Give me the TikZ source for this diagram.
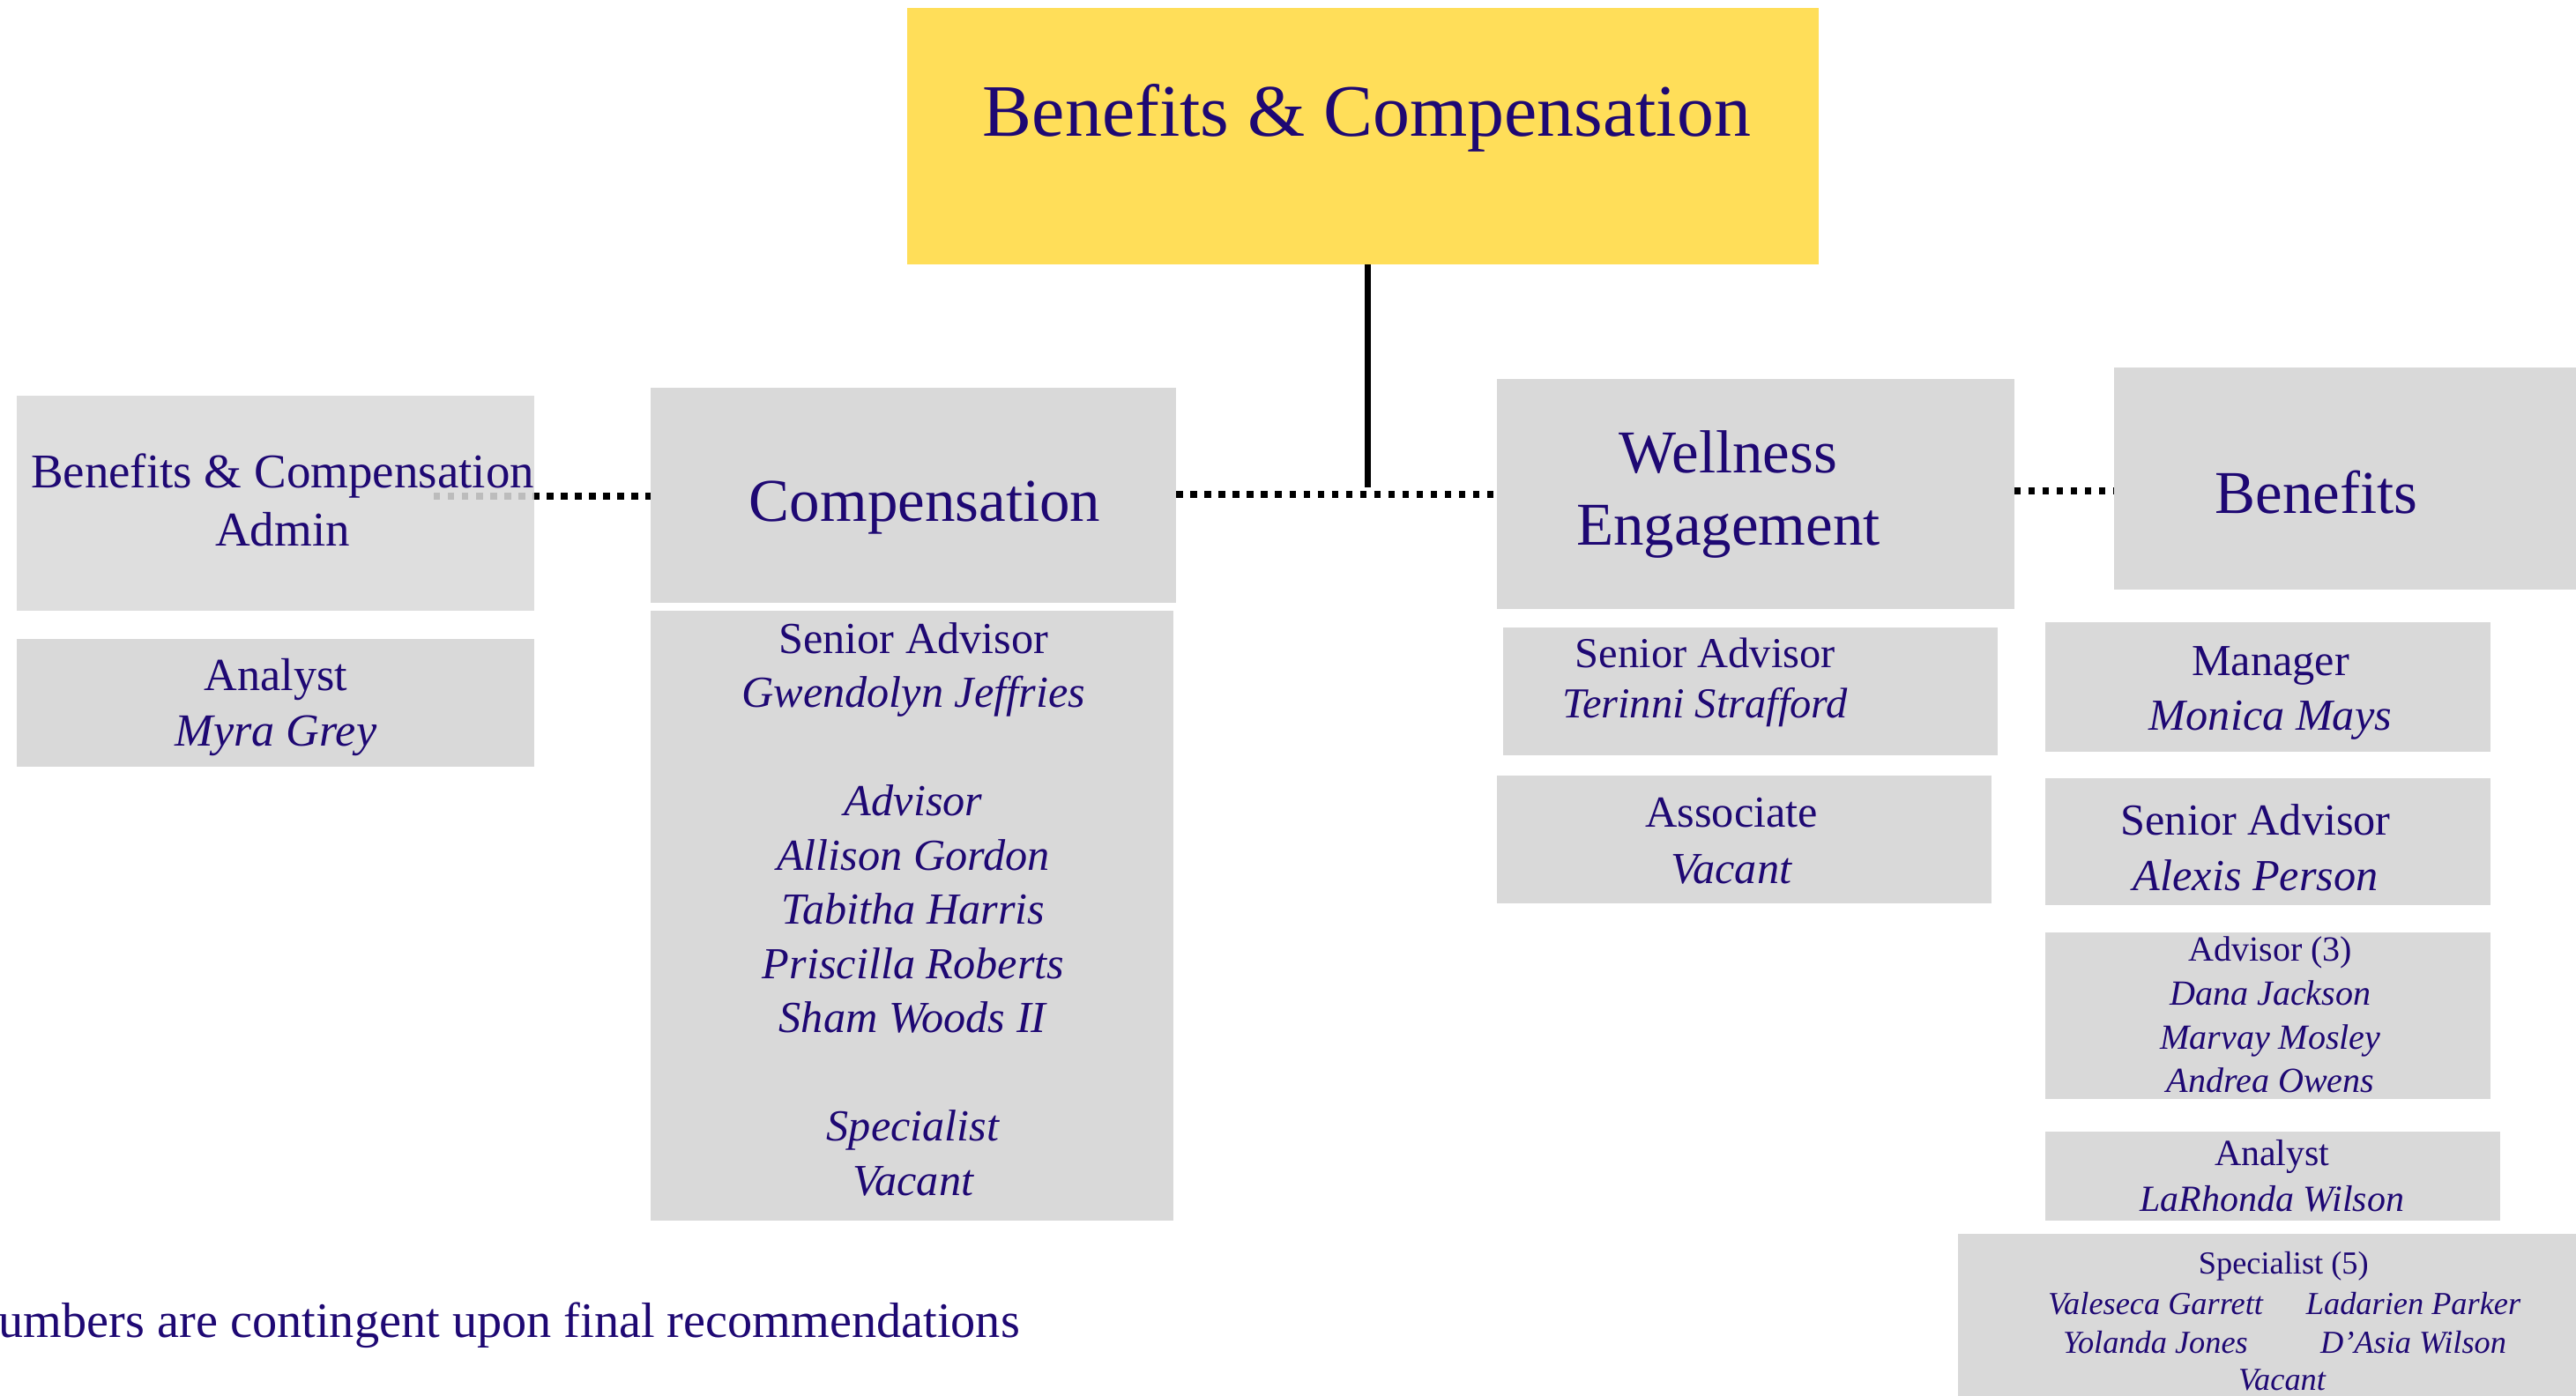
\documentclass[tikz,border=0pt]{standalone}
\usepackage{fontspec}
\setmainfont{Liberation Serif}
\definecolor{ink}{RGB}{30,8,115}
\definecolor{boxgray}{RGB}{217,217,217}
\definecolor{gold}{RGB}{255,222,89}
\newcommand\fsz[2]{\fontsize{#1}{#2}\selectfont}
\begin{document}
\begin{tikzpicture}[x=1pt,y=-1pt,
  box/.style={fill=boxgray, inner sep=0pt, outer sep=0pt, anchor=north west},
  txt/.style={text=ink, align=center, inner sep=0pt},
  solidline/.style={line width=3.6pt},
  dotline/.style={line width=4pt, dash pattern=on 4pt off 4.6pt}]
\useasboundingbox (0,0) rectangle (1568,850);

% top
\node[box, fill=gold, minimum width=555pt, minimum height=156pt] (top) at (552,5) {};
\node[txt, font=\fsz{45}{54}] (top-t) at (832,72) {Benefits \& Compensation};

% compensation
\node[box, minimum width=320pt, minimum height=131pt] (comp) at (396,236) {};
\node[txt, font=\fsz{37}{44}] (comp-t) at (563,309) {Compensation};
\node[box, minimum width=318pt, minimum height=371pt] (compb) at (396,372) {};
\node[txt, font=\fsz{27}{33}] (compb-t) at (556,553.5) {Senior Advisor\\ \textit{Gwendolyn Jeffries}\\[33pt]
  \textit{Advisor}\\ \textit{Allison Gordon}\\ \textit{Tabitha Harris}\\ \textit{Priscilla Roberts}\\ \textit{Sham Woods II}\\[33pt]
  \textit{Specialist}\\ \textit{Vacant}};

% admin
\coordinate (adminjoin) at (264,302);
\draw[dotline] (adminjoin) -- (adminjoin -| comp.west);
\node[box, fill opacity=0.87, minimum width=315pt, minimum height=131pt] (admin) at (10,241) {};
\node[txt, font=\fsz{29.5}{35}] (admin-t) at (172,304.5) {Benefits \& Compensation\\Admin};
\node[box, minimum width=315pt, minimum height=78pt] (anl) at (10,389) {};
\node[txt, font=\fsz{28}{34}] (anl-t) at (168,430.5) {Analyst\\ \textit{Myra Grey}};

% wellness
\node[box, minimum width=315pt, minimum height=140pt] (well) at (911,231) {};
\node[txt, font=\fsz{37}{44}] (well-t) at (1052,301) {Wellness\\Engagement};
\node[box, minimum width=301pt, minimum height=78pt] (wsa) at (915,382) {};
\node[txt, font=\fsz{26}{31}] (wsa-t) at (1038,415.5) {Senior Advisor\\ \textit{Terinni Strafford}};
\node[box, minimum width=301pt, minimum height=78pt] (wass) at (911,472) {};
\node[txt, font=\fsz{27}{34}] (wass-t) at (1054,512) {Associate\\ \textit{Vacant}};

% benefits
\node[box, minimum width=300pt, minimum height=135pt] (ben) at (1287,224) {};
\node[txt, font=\fsz{37}{44}] (ben-t) at (1410,300) {Benefits};
\node[box, minimum width=271pt, minimum height=79pt] (bman) at (1245,379) {};
\node[txt, font=\fsz{27}{33}] (bman-t) at (1382,422) {Manager\\ \textit{Monica Mays}};
\node[box, minimum width=271pt, minimum height=77pt] (bsa) at (1245,474) {};
\node[txt, font=\fsz{27}{34}] (bsa-t) at (1373,516) {Senior Advisor\\ \textit{Alexis Person}};
\node[box, minimum width=271pt, minimum height=101pt] (badv) at (1245,568) {};
\node[txt, font=\fsz{21.5}{26.7}] (badv-t) at (1382,618) {Advisor (3)\\ \textit{Dana Jackson}\\ \textit{Marvay Mosley}\\ \textit{Andrea Owens}};
\node[box, minimum width=277pt, minimum height=54pt] (banl) at (1245,689) {};
\node[txt, font=\fsz{22.5}{28}] (banl-t) at (1383,716) {Analyst\\ \textit{LaRhonda Wilson}};
\node[box, minimum width=400pt, minimum height=120pt] (bspec) at (1192,751) {};
\node[txt, font=\fsz{19.5}{24}] (bspec-t) at (1390,771) {Specialist (5)};
\node[txt, font=\fsz{19.5}{24}\itshape] (bspec-l) at (1312,805.5) {Valeseca Garrett\\Yolanda Jones};
\node[txt, font=\fsz{19.5}{24}\itshape] (bspec-r) at (1469,805.5) {Ladarien Parker\\D’Asia Wilson};
\node[txt, font=\fsz{19.5}{24}\itshape] (bspec-v) at (1389,840.5) {Vacant};

% footer
\node[txt, anchor=east, font=\fsz{30.2}{36}] (note) at (621,807) {Numbers are contingent upon final recommendations};

% connectors
\coordinate (junc) at (832.5,301);
\draw[solidline] (junc |- top.south) -- ++(0,136);
\draw[dotline] (junc -| comp.east) -- (junc -| well.west);
\coordinate (bjoin) at (1257,299);
\draw[dotline] (bjoin -| well.east) -- (bjoin -| ben.west);
\end{tikzpicture}
\end{document}
